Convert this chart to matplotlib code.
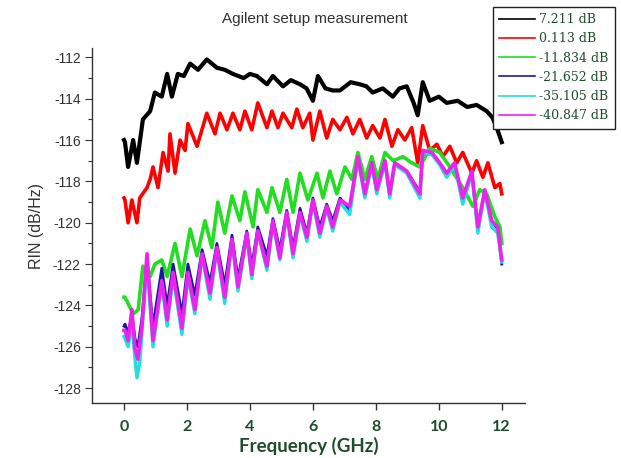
import matplotlib
matplotlib.use("Agg")
import matplotlib.pyplot as plt
from matplotlib.ticker import MultipleLocator

plt.rcParams["axes.unicode_minus"] = False
plt.rcParams["font.family"] = ["Liberation Sans", "DejaVu Sans"]

# values (frequency in GHz, RIN in dB/Hz)
labels = ["7.211 dB", "0.113 dB", "-11.834 dB", "-21.652 dB", "-35.105 dB", "-40.847 dB"]
colors = ["black", "red", "#22dd22", "#1a1aa0", "#22dddd", "#ee22ee"]

f_black = [0.0, 0.03, 0.13, 0.29, 0.41, 0.6, 0.83, 0.98, 1.2, 1.37, 1.52, 1.71, 1.9, 2.1, 2.35,
           2.63, 2.95, 3.2, 3.46, 3.8, 4.0, 4.22, 4.54, 4.73, 5.05, 5.3, 5.59, 5.8, 6.0, 6.16,
           6.4, 6.63, 6.86, 7.2, 7.49, 7.7, 7.9, 8.22, 8.54, 8.75, 8.98, 9.2, 9.33, 9.49, 9.71,
           10.0, 10.25, 10.6, 10.9, 11.2, 11.52, 11.7, 11.84, 12.0]
v_black = [-116.0, -116.1, -117.3, -116.0, -117.1, -115.0, -114.6, -113.7, -113.9, -112.8,
           -113.9, -112.8, -112.9, -112.3, -112.6, -112.1, -112.5, -112.6, -112.8, -113.0,
           -112.8, -112.9, -113.3, -112.9, -113.4, -113.1, -113.3, -113.5, -114.1, -112.9,
           -113.5, -113.6, -113.6, -113.2, -113.3, -113.4, -113.7, -113.5, -113.9, -113.5,
           -113.4, -114.2, -114.8, -113.2, -114.1, -113.9, -114.2, -114.1, -114.4, -114.3,
           -114.6, -114.9, -115.4, -116.1]

f_red = [0.0, 0.03, 0.13, 0.25, 0.41, 0.5, 0.73, 0.83, 0.92, 1.08, 1.24, 1.4, 1.46, 1.62, 1.78,
         1.94, 2.03, 2.32, 2.63, 2.89, 3.05, 3.27, 3.46, 3.68, 3.84, 4.06, 4.25, 4.54, 4.7, 4.89,
         5.05, 5.33, 5.49, 5.68, 5.9, 6.0, 6.22, 6.44, 6.63, 6.86, 7.08, 7.27, 7.49, 7.71, 7.9,
         8.13, 8.29, 8.51, 8.7, 8.92, 9.14, 9.33, 9.49, 9.71, 9.94, 10.13, 10.35, 10.57, 10.76,
         11.05, 11.2, 11.4, 11.56, 11.78, 11.94, 12.0]
v_red = [-118.8, -118.9, -120.0, -118.9, -120.0, -118.8, -118.3, -117.9, -117.3, -118.3, -116.6,
         -117.5, -115.7, -117.6, -116.0, -116.5, -115.2, -116.3, -114.7, -115.7, -114.7, -115.5,
         -114.7, -115.5, -114.6, -115.5, -114.2, -115.4, -114.6, -115.4, -114.7, -115.4, -114.5,
         -115.4, -114.7, -116.0, -114.6, -115.9, -115.0, -115.5, -114.9, -115.7, -115.0, -115.9,
         -115.3, -115.9, -115.0, -116.3, -115.5, -116.0, -115.4, -117.1, -115.3, -116.5, -116.2,
         -116.8, -116.3, -117.1, -116.6, -117.6, -117.0, -117.8, -117.1, -118.3, -118.1, -118.6]

f_green = [0.0, 0.03, 0.19, 0.3, 0.45, 0.6, 0.83, 0.98, 1.2, 1.37, 1.62, 1.84, 2.1, 2.32, 2.57,
           2.79, 2.98, 3.2, 3.43, 3.68, 3.84, 4.1, 4.25, 4.54, 4.7, 4.95, 5.17, 5.37, 5.59, 5.84,
           6.13, 6.32, 6.54, 6.76, 7.02, 7.24, 7.43, 7.65, 7.87, 8.06, 8.29, 8.55, 8.86, 9.14,
           9.4, 9.71, 10.03, 10.35, 10.76, 11.08, 11.3, 11.52, 11.78, 11.94, 12.0]
v_green = [-123.6, -123.6, -124.1, -124.4, -124.2, -122.1, -122.6, -122.0, -121.8, -122.6, -121.0,
           -122.6, -120.3, -121.6, -119.9, -121.2, -119.0, -120.5, -118.7, -119.9, -118.5, -120.2,
           -118.4, -119.5, -118.3, -119.5, -117.9, -119.5, -117.6, -118.9, -117.6, -118.8, -117.5,
           -118.6, -117.3, -117.9, -116.6, -117.9, -116.8, -117.9, -116.6, -117.0, -116.8, -117.1,
           -117.3, -116.4, -116.6, -117.3, -118.3, -119.2, -118.4, -118.6, -119.7, -120.2, -121.0]

f_blue = [0.0, 0.03, 0.13, 0.25, 0.35, 0.44, 0.57, 0.73, 0.92, 1.2, 1.37, 1.56, 1.84, 2.03, 2.25,
          2.48, 2.73, 2.95, 3.2, 3.43, 3.62, 3.9, 4.06, 4.25, 4.54, 4.73, 4.95, 5.17, 5.37, 5.59,
          5.81, 6.0, 6.22, 6.44, 6.63, 6.86, 7.17, 7.43, 7.65, 7.87, 8.03, 8.29, 8.44, 8.6, 8.98,
          9.4, 9.49, 9.78, 10.03, 10.25, 10.5, 10.76, 11.05, 11.24, 11.46, 11.68, 11.87, 12.0]
v_blue = [-125.0, -124.9, -125.3, -124.5, -125.6, -126.0, -124.6, -121.8, -125.0, -122.2, -124.0,
          -122.0, -124.4, -122.0, -123.5, -121.3, -122.9, -121.0, -123.0, -120.6, -122.7, -120.4,
          -122.1, -120.2, -121.6, -119.8, -121.3, -119.4, -121.2, -119.3, -120.5, -118.8, -120.2,
          -119.1, -119.9, -118.8, -119.4, -116.9, -118.6, -117.1, -118.5, -117.0, -118.7, -117.1,
          -117.5, -118.5, -116.6, -116.7, -117.1, -117.7, -117.2, -118.9, -117.6, -120.3, -118.5,
          -119.9, -120.3, -122.0]

f_cyan = [0.0, 0.03, 0.13, 0.25, 0.35, 0.41, 0.5, 0.57, 0.73, 0.92, 1.2, 1.37, 1.56, 1.84, 2.03,
          2.25, 2.48, 2.73, 2.95, 3.2, 3.43, 3.62, 3.9, 4.06, 4.25, 4.54, 4.73, 4.95, 5.17, 5.37,
          5.59, 5.81, 6.0, 6.22, 6.44, 6.63, 6.86, 7.17, 7.43, 7.65, 7.87, 8.03, 8.29, 8.44, 8.6,
          8.98, 9.4, 9.49, 9.78, 10.03, 10.25, 10.5, 10.76, 11.05, 11.24, 11.46, 11.68, 11.87, 12.0]
v_cyan = [-125.5, -125.6, -126.0, -124.9, -126.6, -127.5, -126.8, -125.3, -122.0, -126.0, -122.9,
          -125.0, -122.6, -125.4, -122.6, -124.4, -121.6, -123.7, -121.3, -123.9, -120.9, -123.3,
          -120.6, -122.7, -120.4, -122.3, -120.0, -121.8, -119.6, -121.7, -119.6, -120.9, -119.0,
          -120.7, -119.3, -120.4, -119.0, -119.6, -116.9, -118.8, -117.2, -118.6, -117.1, -118.8,
          -117.2, -117.6, -118.8, -116.6, -116.7, -117.2, -117.8, -117.2, -119.1, -117.6, -120.5,
          -118.5, -120.2, -120.5, -121.9]

f_magenta = [0.0, 0.03, 0.13, 0.25, 0.35, 0.44, 0.57, 0.73, 0.92, 1.2, 1.37, 1.56, 1.84, 2.03,
             2.25, 2.48, 2.73, 2.95, 3.2, 3.43, 3.62, 3.9, 4.06, 4.25, 4.54, 4.73, 4.95, 5.17,
             5.37, 5.59, 5.81, 6.0, 6.22, 6.44, 6.63, 6.86, 7.17, 7.43, 7.65, 7.87, 8.03, 8.29,
             8.44, 8.6, 8.98, 9.4, 9.49, 9.78, 10.03, 10.25, 10.5, 10.76, 11.05, 11.24, 11.46,
             11.68, 11.87, 12.0]
v_magenta = [-125.2, -125.2, -125.7, -124.2, -126.1, -126.6, -125.0, -121.5, -125.7, -122.8,
             -124.7, -122.4, -125.1, -122.4, -124.2, -121.5, -123.4, -121.2, -123.6, -120.8,
             -123.1, -120.5, -122.5, -120.4, -122.1, -119.9, -121.7, -119.5, -121.5, -119.5,
             -120.7, -118.9, -120.5, -119.2, -120.2, -118.9, -119.2, -116.8, -118.6, -117.1,
             -118.4, -117.0, -118.6, -117.1, -117.5, -118.6, -116.5, -116.6, -117.1, -117.6,
             -117.1, -118.8, -117.5, -120.2, -118.4, -119.9, -120.2, -121.8]

series = [(f_black, v_black), (f_red, v_red), (f_green, v_green),
          (f_blue, v_blue), (f_cyan, v_cyan), (f_magenta, v_magenta)]

xticks = [0, 2, 4, 6, 8, 10, 12]
yticks = [-128, -126, -124, -122, -120, -118, -116, -114, -112]

fig = plt.figure(figsize=(6.21, 4.58), dpi=100)
ax = fig.add_axes([0.148, 0.12, 0.697, 0.775])

widths = [3.0, 2.6, 2.6, 2.0, 2.4, 2.6]
handles = []
for (f, v), c, lab, w in zip(series, colors, labels, widths):
    ax.plot(f, v, color=c, lw=w)
    h, = ax.plot([], [], color=c, lw=1.2, label=lab)
    handles.append(h)

ax.set_xlim(-1.02, 12.73)
ax.set_ylim(-128.72, -111.55)
ax.spines["top"].set_visible(False)
ax.spines["right"].set_visible(False)
for s in ["left", "bottom"]:
    ax.spines[s].set_color("#333333")
    ax.spines[s].set_linewidth(1.0)

green = "#1e4d2b"
ax.set_xticks(xticks)
ax.set_yticks(yticks)
ax.yaxis.set_minor_locator(MultipleLocator(1))
ax.tick_params(axis="y", direction="out", length=5, width=0.8, colors="#333333",
               labelsize=10, pad=3)
ax.tick_params(axis="y", which="minor", direction="out", length=3, width=0.8, colors="#333333")
ax.tick_params(axis="x", direction="out", length=5, width=1.0, colors="#333333", pad=7)
for t in ax.get_xticklabels():
    t.set_fontfamily("Lato")
    t.set_fontweight("bold")
    t.set_fontsize(11.5)
    t.set_color(green)
for t in ax.get_yticklabels():
    t.set_color("#333333")

ax.set_xlabel("Frequency (GHz)", fontfamily="Lato", fontweight="bold", fontsize=13.5,
              color=green, labelpad=2)
ax.set_ylabel("RIN (dB/Hz)", fontsize=11.5, color="#333333", labelpad=6)
fig.text(0.507, 0.958, "Agilent setup measurement", ha="center", va="center",
         fontsize=11, color="#333333")

leg = fig.legend(handles=handles, loc="upper right", bbox_to_anchor=(0.99, 0.985),
                 prop={"family": "DejaVu Serif", "size": 9}, handlelength=2.9,
                 handletextpad=0.3, labelspacing=0.5, borderpad=0.5, fancybox=False,
                 framealpha=1, edgecolor="#222222", borderaxespad=0)
leg.get_frame().set_linewidth(1.0)
for t in leg.get_texts():
    t.set_color(green)

fig.savefig("out.png", dpi=100)
